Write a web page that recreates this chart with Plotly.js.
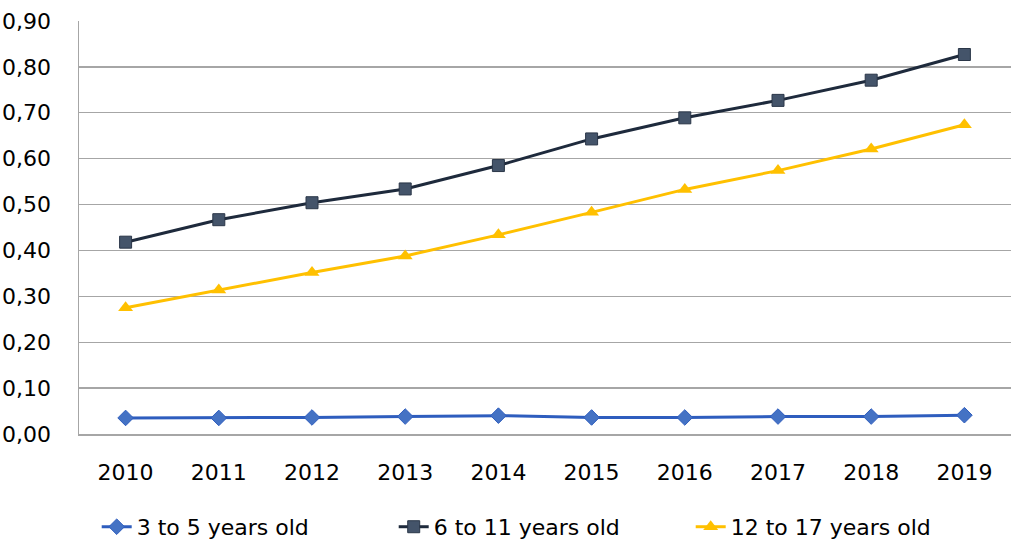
<!DOCTYPE html>
<html>
<head>
<meta charset="utf-8">
<script src="https://cdn.plot.ly/plotly-3.0.1.min.js"></script>
<style>html,body{margin:0;padding:0;background:#fff;}#chart{width:1021px;height:550px;}</style>
</head>
<body>
<div id="chart"></div>
<script>
const years = ['2010','2011','2012','2013','2014','2015','2016','2017','2018','2019'];
const age3to5 = [0.035, 0.035, 0.036, 0.038, 0.040, 0.036, 0.036, 0.038, 0.038, 0.041];
const age6to11 = [0.418, 0.467, 0.504, 0.534, 0.585, 0.643, 0.689, 0.727, 0.771, 0.827];
const age12to17 = [0.275, 0.314, 0.352, 0.388, 0.434, 0.483, 0.533, 0.574, 0.621, 0.674];
const yTicks = [0, 0.1, 0.2, 0.3, 0.4, 0.5, 0.6, 0.7, 0.8, 0.9];

const font = 'DejaVu Sans, sans-serif';
const traces = [
  {x: years, y: age3to5, name: '3 to 5 years old', type: 'scatter', mode: 'lines+markers',
   line: {color: '#2E5DBE', width: 3}, marker: {symbol: 'diamond', size: 12, color: '#4472C4', line: {color: '#2E5DBE', width: 1}}},
  {x: years, y: age6to11, name: '6 to 11 years old', type: 'scatter', mode: 'lines+markers',
   line: {color: '#1E2A3C', width: 3}, marker: {symbol: 'square', size: 12, color: '#44546A', line: {color: '#2A3648', width: 1}}},
  {x: years, y: age12to17, name: '12 to 17 years old', type: 'scatter', mode: 'lines+markers',
   line: {color: '#FFC000', width: 3}, marker: {symbol: 'triangle-up', size: 13, color: '#FFC000'}}
];
const layout = {
  width: 1021, height: 550,
  margin: {l: 79, r: 10, t: 21, b: 116, autoexpand: false},
  paper_bgcolor: '#fff', plot_bgcolor: '#fff',
  separators: ',.',
  font: {family: font, color: '#000', size: 21},
  showlegend: true,
  legend: {orientation: 'h', x: 0.497, xanchor: 'center', xref: 'paper', y: -0.225, yanchor: 'middle',
           entrywidth: 252, entrywidthmode: 'pixels',
           font: {family: font, size: 22, color: '#000'}, traceorder: 'normal'},
  xaxis: {type: 'category', range: [-0.5, 9.5], showgrid: false, zeroline: false,
          showline: true, linecolor: '#A6A6A6', linewidth: 1.5, ticks: '',
          tickfont: {family: font, size: 22, color: '#000'}, ticklabelstandoff: 18},
  yaxis: {range: [0, 0.9], tickvals: yTicks, tickformat: '.2f', showgrid: true, gridcolor: '#A6A6A6', gridwidth: 1.3,
          zeroline: false, showline: true, linecolor: '#A6A6A6', linewidth: 1.5, ticks: '',
          tickfont: {family: font, size: 22, color: '#000'}, ticklabelstandoff: 22}
};
Plotly.newPlot('chart', traces, layout, {staticPlot: true, displayModeBar: false});
</script>
</body>
</html>
